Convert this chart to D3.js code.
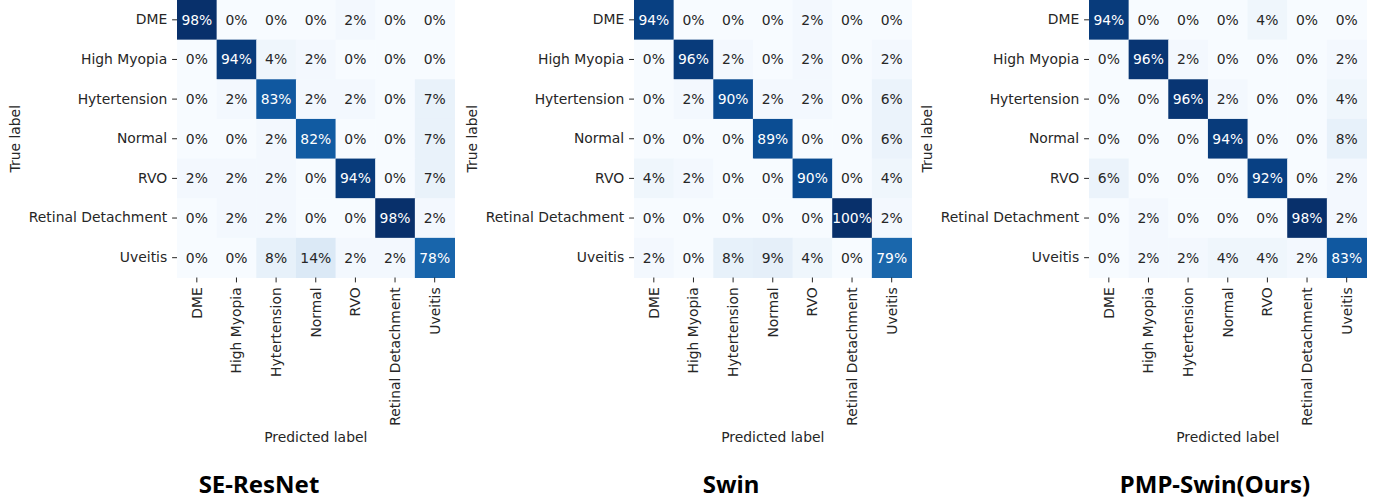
<!DOCTYPE html>
<html>
<head>
<meta charset="utf-8">
<script src="https://cdn.jsdelivr.net/npm/d3@7"></script>
<style>
  html, body { margin: 0; padding: 0; background: #fff; }
  svg { display: block; }
  .tick text { font-family: "DejaVu Sans", sans-serif; font-size: 13.9px; fill: #262626; }
  .tick line { stroke: #262626; stroke-width: 1; }
</style>
</head>
<body>
<svg id="chart" width="1384" height="500"></svg>
<script>
// Class labels shared by both axes of every matrix
const categories = ["DME", "High Myopia", "Hytertension", "Normal", "RVO", "Retinal Detachment", "Uveitis"];

// Row-normalised confusion matrices (percent), rows = true label, columns = predicted label
const seResNetValues = [
  [98, 0, 0, 0, 2, 0, 0],
  [0, 94, 4, 2, 0, 0, 0],
  [0, 2, 83, 2, 2, 0, 7],
  [0, 0, 2, 82, 0, 0, 7],
  [2, 2, 2, 0, 94, 0, 7],
  [0, 2, 2, 0, 0, 98, 2],
  [0, 0, 8, 14, 2, 2, 78]
];
const swinValues = [
  [94, 0, 0, 0, 2, 0, 0],
  [0, 96, 2, 0, 2, 0, 2],
  [0, 2, 90, 2, 2, 0, 6],
  [0, 0, 0, 89, 0, 0, 6],
  [4, 2, 0, 0, 90, 0, 4],
  [0, 0, 0, 0, 0, 100, 2],
  [2, 0, 8, 9, 4, 0, 79]
];
const pmpSwinValues = [
  [94, 0, 0, 0, 4, 0, 0],
  [0, 96, 2, 0, 0, 0, 2],
  [0, 0, 96, 2, 0, 0, 4],
  [0, 0, 0, 94, 0, 0, 8],
  [6, 0, 0, 0, 92, 0, 2],
  [0, 2, 0, 0, 0, 98, 2],
  [0, 2, 2, 4, 4, 2, 83]
];

const modelNames = ["SE-ResNet", "Swin", "PMP-Swin(Ours)"];
const matrices = [seResNetValues, swinValues, pmpSwinValues];

// Layout of each panel
const panels = [
  { left: 177, titleX: 259 },
  { left: 634, titleX: 731 },
  { left: 1089, titleX: 1215 }
];
const gridTop = 0;
const gridSize = 277.5;
const tickLen = 4.9;
const tickPad = 4.9;
const labelFont = '"DejaVu Sans", sans-serif';
const inkColor = "#262626";

const svg = d3.select("#chart");
svg.append("rect").attr("width", 1384).attr("height", 500).attr("fill", "#fff");

function relLuminance(c) {
  const rgb = d3.rgb(c);
  const lin = v => { v /= 255; return v <= 0.03928 ? v / 12.92 : Math.pow((v + 0.055) / 1.055, 2.4); };
  return 0.2126 * lin(rgb.r) + 0.7152 * lin(rgb.g) + 0.0722 * lin(rgb.b);
}

matrices.forEach((values, mi) => {
  const p = panels[mi];
  const g = svg.append("g");

  const x = d3.scaleBand().domain(categories).range([p.left, p.left + gridSize]);
  const y = d3.scaleBand().domain(categories).range([gridTop, gridTop + gridSize]);

  const flat = values.flat();
  const color = d3.scaleSequential(d3.interpolateBlues)
    .domain([d3.min(flat), d3.max(flat)]);

  const cells = [];
  values.forEach((row, ri) => row.forEach((v, ci) => {
    cells.push({ row: categories[ri], col: categories[ci], v });
  }));

  g.selectAll("rect.cell").data(cells).join("rect")
    .attr("class", "cell")
    .attr("x", d => x(d.col))
    .attr("y", d => y(d.row))
    .attr("width", x.bandwidth() + 0.5)
    .attr("height", y.bandwidth() + 0.5)
    .attr("fill", d => color(d.v));

  g.selectAll("text.cell-label").data(cells).join("text")
    .attr("class", "cell-label")
    .attr("x", d => x(d.col) + x.bandwidth() / 2)
    .attr("y", d => y(d.row) + y.bandwidth() / 2)
    .attr("text-anchor", "middle")
    .attr("dominant-baseline", "central")
    .attr("font-family", labelFont)
    .attr("font-size", "13.9px")
    .attr("fill", d => relLuminance(color(d.v)) > 0.408 ? "#262626" : "#ffffff")
    .text(d => d.v + "%");

  // Y axis (true label)
  const yAxis = g.append("g")
    .attr("transform", `translate(${p.left},0)`)
    .call(d3.axisLeft(y).tickSize(tickLen).tickPadding(tickPad));
  yAxis.select(".domain").remove();

  // X axis (predicted label), labels rotated vertically
  const xAxis = g.append("g")
    .attr("transform", `translate(0,${gridTop + gridSize})`)
    .call(d3.axisBottom(x).tickSize(tickLen).tickPadding(tickPad));
  xAxis.select(".domain").remove();
  xAxis.selectAll(".tick text")
    .attr("transform", "rotate(-90)")
    .attr("x", -(tickLen + tickPad))
    .attr("y", 0)
    .attr("dy", "0.35em")
    .attr("text-anchor", "end");

  // Axis titles
  let minLeft = Infinity;
  yAxis.selectAll(".tick text").each(function () {
    const b = this.getBBox();
    const ctm = this.getCTM();
    minLeft = Math.min(minLeft, b.x + ctm.e);
  });
  g.append("text")
    .attr("transform", `translate(${minLeft - 14},${gridTop + gridSize / 2}) rotate(-90)`)
    .attr("text-anchor", "middle")
    .attr("dominant-baseline", "central")
    .attr("font-family", labelFont)
    .attr("font-size", "13.9px")
    .attr("fill", inkColor)
    .text("True label");

  g.append("text")
    .attr("x", p.left + gridSize / 2)
    .attr("y", 437)
    .attr("text-anchor", "middle")
    .attr("dominant-baseline", "central")
    .attr("font-family", labelFont)
    .attr("font-size", "13.9px")
    .attr("fill", inkColor)
    .text("Predicted label");

  // Model name beneath the panel
  svg.append("text")
    .attr("x", p.titleX)
    .attr("y", 483)
    .attr("text-anchor", "middle")
    .attr("dominant-baseline", "central")
    .attr("font-family", '"Noto Sans", sans-serif')
    .attr("font-weight", "bold")
    .attr("font-size", "24px")
    .attr("fill", "#000")
    .text(modelNames[mi]);
});
</script>
</body>
</html>
